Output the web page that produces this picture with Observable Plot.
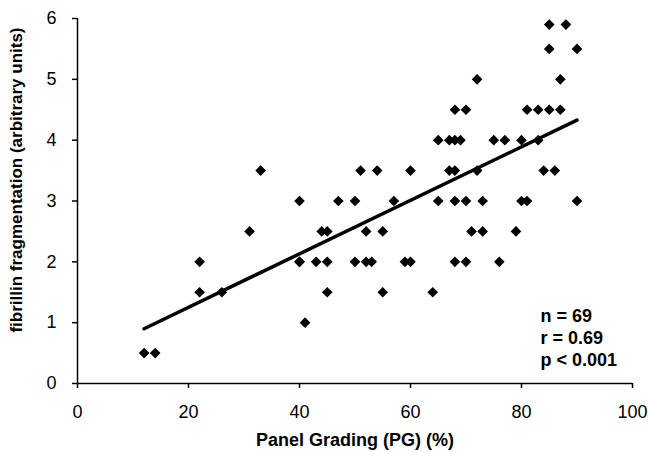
<!DOCTYPE html>
<html><head><meta charset="utf-8">
<script src="https://cdn.jsdelivr.net/npm/d3@7"></script>
<script src="https://cdn.jsdelivr.net/npm/@observablehq/plot@0.6"></script>
<style>html,body{margin:0;padding:0;background:#fff} #chart svg{display:block}</style>
</head><body><div id="chart"></div>
<script>
// Panel Grading (PG) (%) of each sample
const grading = [
  12, 14,
  41,
  22, 26, 45, 55, 64,
  22, 40, 40, 43, 45, 50, 52, 53, 59, 60, 68, 70, 76,
  31, 44, 45, 52, 55, 71, 73, 79,
  40, 47, 50, 57, 65, 68, 70, 73, 80, 81, 90,
  33, 51, 54, 60, 67, 68, 72, 84, 86,
  65, 67, 68, 69, 75, 77, 80, 83,
  68, 70, 81, 83, 85, 87,
  72, 87,
  85, 90,
  85, 88
];
// fibrillin fragmentation (arbitrary units) of each sample
const fragmentation = [
  0.5, 0.5,
  1,
  1.5, 1.5, 1.5, 1.5, 1.5,
  2, 2, 2, 2, 2, 2, 2, 2, 2, 2, 2, 2, 2,
  2.5, 2.5, 2.5, 2.5, 2.5, 2.5, 2.5, 2.5,
  3, 3, 3, 3, 3, 3, 3, 3, 3, 3, 3,
  3.5, 3.5, 3.5, 3.5, 3.5, 3.5, 3.5, 3.5, 3.5,
  4, 4, 4, 4, 4, 4, 4, 4,
  4.5, 4.5, 4.5, 4.5, 4.5, 4.5,
  5, 5,
  5.5, 5.5,
  5.9, 5.9
];
// regression line end points
const trendGrading = [12, 90];
const trendFragmentation = [0.9, 4.33];

const xTicks = [0, 20, 40, 60, 80, 100];
const yTicks = [0, 1, 2, 3, 4, 5, 6];
const statsLines = ["n = 69", "r = 0.69", "p < 0.001"];
const xTitle = "Panel Grading (PG) (%)";
const yTitle = "fibrillin fragmentation (arbitrary units)";

const points = grading.map((g, i) => ({g, f: fragmentation[i]}));
const trend = trendGrading.map((g, i) => ({g, f: trendFragmentation[i]}));
const font = "'Liberation Sans', Arial, Helvetica, sans-serif";

const chart = Plot.plot({
  width: 648,
  height: 452,
  marginLeft: 77,
  marginRight: 16,
  marginTop: 18,
  marginBottom: 69,
  style: {fontFamily: font, fontSize: "18px", color: "#000", background: "#fff", overflow: "visible"},
  x: {domain: [0, 100], label: null},
  y: {domain: [0, 6], label: null},
  marks: [
    Plot.axisX({ticks: xTicks, tickFormat: d3.format("d"), tickSize: 5, tickPadding: 17, fontSize: 18, strokeWidth: 1.5, stroke: "#000", fill: "#000", label: null}),
    Plot.axisY({ticks: yTicks, tickFormat: d3.format("d"), tickSize: 5, tickPadding: 16, fontSize: 18, strokeWidth: 1.5, stroke: "#000", fill: "#000", label: null}),
    Plot.ruleX([0], {stroke: "#000", strokeWidth: 1.5}),
    Plot.ruleY([0], {stroke: "#000", strokeWidth: 1.5}),
    Plot.dot(points, {x: "g", y: "f", symbol: "diamond2", r: 4.8, fill: "#000", stroke: "none"}),
    Plot.line(trend, {x: "g", y: "f", stroke: "#000", strokeWidth: 3.5}),
    Plot.text([yTitle], {frameAnchor: "left", rotate: -90, dx: -61, dy: -21, textAnchor: "middle", lineAnchor: "middle", fontWeight: "bold", fontSize: 17, fill: "#000"}),
    Plot.text([xTitle], {frameAnchor: "bottom", dy: 62, textAnchor: "middle", lineAnchor: "bottom", fontWeight: "bold", fontSize: 18, fill: "#000"}),
    Plot.text([statsLines.join("\n")], {frameAnchor: "bottom-left", dx: 463, dy: -18, textAnchor: "start", lineAnchor: "bottom", lineHeight: 1.2, fontWeight: "bold", fontSize: 18, fill: "#000"})
  ]
});
document.getElementById("chart").appendChild(chart);
</script>
</body></html>
